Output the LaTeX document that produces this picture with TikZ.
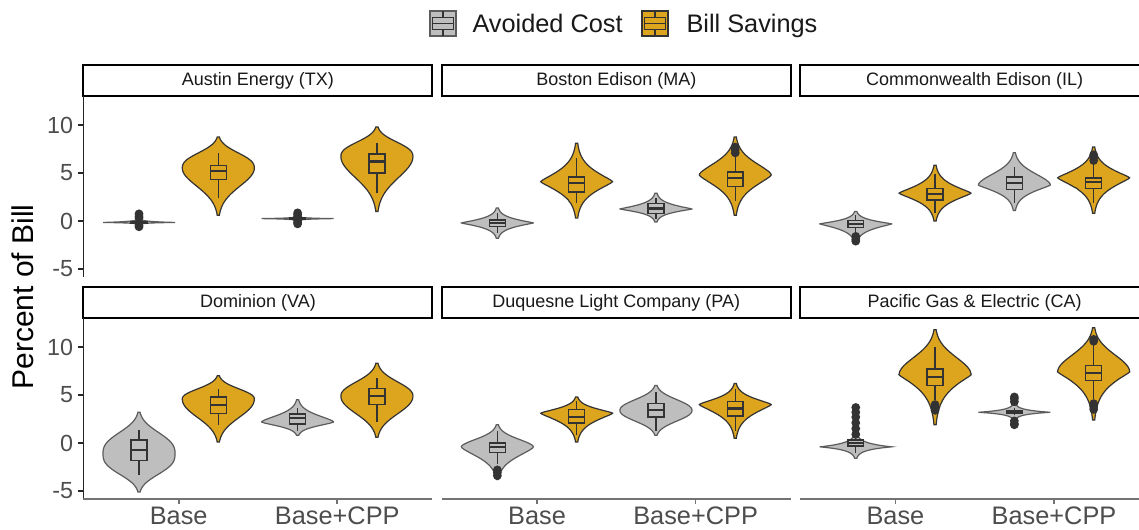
\documentclass[tikz,border=0pt]{standalone}
\usepackage{fontspec}
\setmainfont{Liberation Sans}

\definecolor{acgray}{HTML}{BEBEBE}
\definecolor{bsgold}{HTML}{DDA41E}
\definecolor{inkgray}{HTML}{333333}
\definecolor{ticktext}{HTML}{4D4D4D}

\tikzset{every picture/.style={line width=0.75pt}}
\tikzset{
  acviolin/.style={draw=inkgray!80, fill=acgray, line width=0.9pt},
  bsviolin/.style={draw=inkgray, fill=bsgold, line width=0.9pt},
  boxline/.style={draw=inkgray, line width=1.1pt},
  outpt/.style={fill=inkgray},
  stripbox/.style={draw=black, fill=white, line width=1.5pt},
  striptext/.style={inner sep=0pt, text=black!90, font=\fontsize{13.5}{16}\selectfont},
  yaxis/.style={draw=black!85, line width=1.1pt},
  xaxis/.style={draw=black!55, line width=1.3pt},
  ticklab/.style={inner sep=0pt, anchor=east, text=ticktext, font=\fontsize{17.5}{20}\selectfont},
  xlab/.style={inner sep=0pt, anchor=base, text=ticktext, font=\fontsize{19}{22}\selectfont},
  leglab/.style={inner sep=0pt, anchor=base west, text=black!90, font=\fontsize{19}{22}\selectfont},
  ytitle/.style={inner sep=0pt, anchor=base, rotate=90, font=\fontsize{22.5}{26}\selectfont},
}

% half width of a violin and of a box, in category units
\newcommand{\vhw}{0.227}
\newcommand{\bhw}{0.05}
% violin: x, lowest, mode, highest, lower shape, upper shape, style
\newcommand{\violinshape}[7]{%
  \draw[#7] plot[variable=\t, smooth, samples=31, domain=#2:#3] ({#1+\vhw*exp(-3.5*pow(abs((#3-(\t))/(#3-(#2)))+0.0001,#5))},\t)
    -- plot[variable=\t, smooth, samples=31, domain=#3:#4] ({#1+\vhw*exp(-3.5*pow(abs(((\t)-(#3))/(#4-(#3)))+0.0001,#6))},\t)
    -- plot[variable=\t, smooth, samples=31, domain=#4:#3] ({#1-\vhw*exp(-3.5*pow(abs(((\t)-(#3))/(#4-(#3)))+0.0001,#6))},\t)
    -- plot[variable=\t, smooth, samples=31, domain=#3:#2] ({#1-\vhw*exp(-3.5*pow(abs((#3-(\t))/(#3-(#2)))+0.0001,#5))},\t) -- cycle;}
% box: x, whisker low, q1, median, q3, whisker high, fill
\newcommand{\boxwhisker}[7]{%
  \draw[boxline] (#1,#2) -- (#1,#3) (#1,#5) -- (#1,#6);
  \draw[boxline, fill=#7] (#1-\bhw,#3) rectangle (#1+\bhw,#5);
  \draw[boxline, line width=1.6pt] (#1-\bhw,#4) -- (#1+\bhw,#4);}
\newcommand{\outliers}[2]{\foreach \v in {#2} {\fill[outpt] (#1,\v) circle[radius=3.3pt];}}

\begin{document}
\begin{tikzpicture}[x=0.75pt,y=0.75pt,yscale=-1,xscale=1]
\useasboundingbox (0,0) rectangle (1139,529);
\clip (0,0) rectangle (1139,529);
\fill[white] (0,0) rectangle (1139,529);

%Legend: Avoided Cost
\draw[acviolin] (430,11) rectangle (456,36);
\draw[boxline, line width=0.9pt] (443,11) -- (443,17.25) (443,29.75) -- (443,36);
\draw[boxline, line width=0.9pt, fill=acgray] (432.6,17.25) rectangle (453.4,29.75);
\draw[boxline, line width=0.9pt] (432.6,23.5) -- (453.4,23.5);
% Text Node
\node[leglab] (legAC) at (472,32.5) {Avoided Cost};
%Legend: Bill Savings
\draw[bsviolin] (642,11) rectangle (668,36);
\draw[boxline, line width=0.9pt] (655,11) -- (655,17.25) (655,29.75) -- (655,36);
\draw[boxline, line width=0.9pt, fill=bsgold] (644.6,17.25) rectangle (665.4,29.75);
\draw[boxline, line width=0.9pt] (644.6,23.5) -- (665.4,23.5);
% Text Node
\node[leglab] (legBS) at (686,32.5) {Bill Savings};

% Text Node
\node[ytitle] (ylab) at (33,297) {Percent of Bill};

%Panel: Austin Energy
\begin{scope}[shift={(20.06,221)}, x=118.95pt, y=-7.2pt]
  \draw[stripbox] (0.4,13) rectangle (2.6,16.25);
  \node[striptext] (tAustin) at (1.5,14.62) {Austin Energy (TX)};
  \draw[yaxis] (0.4,-5.8) -- (0.4,13);
  \foreach \v in {-5,0,5,10} {\draw[yaxis] (0.4,\v) -- ++(-4pt,0); \node[ticklab, xshift=-7.5pt] (ytop\v) at (0.4,\v) {\v};}
  \violinshape{0.75}{-0.35}{-0.15}{0.2}{1}{1}{acviolin}
  \violinshape{1.25}{0.6}{5.5}{8.75}{2}{2.5}{bsviolin}
  \violinshape{1.75}{0.05}{0.25}{0.45}{1}{1}{acviolin}
  \violinshape{2.25}{1.0}{6.7}{9.8}{2}{2.5}{bsviolin}
  \boxwhisker{0.75}{-0.3}{-0.22}{-0.15}{-0.08}{0.05}{acgray}
  \boxwhisker{1.25}{2.4}{4.3}{5.2}{5.8}{7.1}{bsgold}
  \boxwhisker{1.75}{0.1}{0.18}{0.25}{0.32}{0.4}{acgray}
  \boxwhisker{2.25}{2.9}{5.0}{6.2}{7.0}{8.1}{bsgold}
  \outliers{0.75}{0.75,0.5,0.3,-0.45,-0.6}
  \outliers{1.75}{0.85,0.65,0.45,0.05,-0.15,-0.3}
\end{scope}

%Panel: Boston Edison
\begin{scope}[shift={(378.4,221)}, x=118.95pt, y=-7.2pt]
  \draw[stripbox] (0.4,13) rectangle (2.6,16.25);
  \node[striptext] (tBoston) at (1.5,14.62) {Boston Edison (MA)};
  \violinshape{0.75}{-1.8}{-0.2}{1.35}{1.2}{1.2}{acviolin}
  \violinshape{1.25}{0.3}{4.1}{8.1}{1.3}{1.3}{bsviolin}
  \violinshape{1.75}{-0.1}{1.25}{2.9}{1.2}{1.2}{acviolin}
  \violinshape{2.25}{0.6}{4.8}{8.75}{1.4}{1.6}{bsviolin}
  \boxwhisker{0.75}{-1.2}{-0.6}{-0.2}{0.1}{0.8}{acgray}
  \boxwhisker{1.25}{1.9}{3.0}{4.0}{4.6}{6.6}{bsgold}
  \boxwhisker{1.75}{0.2}{0.8}{1.3}{1.8}{2.4}{acgray}
  \boxwhisker{2.25}{2.1}{3.6}{4.5}{5.1}{6.9}{bsgold}
  \outliers{2.25}{7.1,7.4,7.7}
\end{scope}

%Panel: Commonwealth Edison
\begin{scope}[shift={(736.8,221)}, x=118.95pt, y=-7.2pt]
  \draw[stripbox] (0.4,13) rectangle (2.6,16.25);
  \node[striptext] (tComEd) at (1.5,14.62) {Commonwealth Edison (IL)};
  \violinshape{0.75}{-2.3}{-0.3}{1.0}{1.2}{1.2}{acviolin}
  \violinshape{1.25}{0.0}{2.9}{5.8}{1.3}{1.3}{bsviolin}
  \violinshape{1.75}{1.1}{3.75}{7.1}{1.3}{1.8}{acviolin}
  \violinshape{2.25}{0.8}{4.5}{7.7}{1.3}{1.3}{bsviolin}
  \boxwhisker{0.75}{-1.3}{-0.7}{-0.3}{0.05}{0.6}{acgray}
  \boxwhisker{1.25}{0.8}{2.2}{2.8}{3.4}{4.9}{bsgold}
  \boxwhisker{1.75}{1.9}{3.3}{4.0}{4.6}{5.6}{acgray}
  \boxwhisker{2.25}{1.9}{3.4}{4.1}{4.5}{6.0}{bsgold}
  \outliers{0.75}{-1.6,-1.9,-2.1}
  \outliers{2.25}{6.3,6.6,6.9}
\end{scope}

%Panel: Dominion
\begin{scope}[shift={(20.06,443)}, x=118.95pt, y=-7.2pt]
  \draw[stripbox] (0.4,13) rectangle (2.6,16.25);
  \node[striptext] (tDominion) at (1.5,14.62) {Dominion (VA)};
  \draw[yaxis] (0.4,-5.8) -- (0.4,13);
  \foreach \v in {-5,0,5,10} {\draw[yaxis] (0.4,\v) -- ++(-4pt,0); \node[ticklab, xshift=-7.5pt] (ybot\v) at (0.4,\v) {\v};}
  \draw[xaxis] (0.4,-5.8) -- (2.6,-5.8);
  \foreach \c in {1,2} {\draw[xaxis] (\c,-5.8) -- ++(0,4pt);}
  \node[xlab] (xDomBase) at (1,-8.54) {Base};
  \node[xlab] (xDomCPP) at (2,-8.54) {Base+CPP};
  \violinshape{0.75}{-5.1}{-1.1}{3.2}{2.8}{2.6}{acviolin}
  \violinshape{1.25}{0.1}{4.6}{7.0}{2.2}{2.2}{bsviolin}
  \violinshape{1.75}{0.8}{2.2}{4.5}{1.5}{1.5}{acviolin}
  \violinshape{2.25}{0.6}{4.9}{8.3}{2.2}{2.2}{bsviolin}
  \boxwhisker{0.75}{-3.3}{-1.8}{-0.7}{0.3}{1.4}{acgray}
  \boxwhisker{1.25}{1.9}{3.1}{3.95}{4.8}{5.6}{bsgold}
  \boxwhisker{1.75}{1.3}{2.0}{2.6}{3.0}{3.6}{acgray}
  \boxwhisker{2.25}{2.2}{4.0}{4.9}{5.7}{6.8}{bsgold}
\end{scope}

%Panel: Duquesne Light
\begin{scope}[shift={(378.4,443)}, x=118.95pt, y=-7.2pt]
  \draw[stripbox] (0.4,13) rectangle (2.6,16.25);
  \node[striptext] (tDuquesne) at (1.5,14.62) {Duquesne Light Company (PA)};
  \draw[xaxis] (0.4,-5.8) -- (2.6,-5.8);
  \foreach \c in {1,2} {\draw[xaxis] (\c,-5.8) -- ++(0,4pt);}
  \node[xlab] (xDuqBase) at (1,-8.54) {Base};
  \node[xlab] (xDuqCPP) at (2,-8.54) {Base+CPP};
  \violinshape{0.75}{-3.8}{-0.4}{1.9}{1.5}{1.8}{acviolin}
  \violinshape{1.25}{0.1}{3.1}{4.8}{1.3}{1.4}{bsviolin}
  \violinshape{1.75}{0.8}{3.4}{6.0}{2.2}{2.2}{acviolin}
  \violinshape{2.25}{0.5}{4.0}{6.2}{1.3}{1.4}{bsviolin}
  \boxwhisker{0.75}{-2.2}{-1.0}{-0.4}{0.0}{1.3}{acgray}
  \boxwhisker{1.25}{0.8}{2.1}{2.7}{3.5}{4.4}{bsgold}
  \boxwhisker{1.75}{1.3}{2.7}{3.4}{4.1}{5.3}{acgray}
  \boxwhisker{2.25}{1.3}{2.8}{3.6}{4.3}{5.6}{bsgold}
  \outliers{0.75}{-2.8,-3.1,-3.4}
\end{scope}

%Panel: Pacific Gas & Electric
\begin{scope}[shift={(736.8,443)}, x=118.95pt, y=-7.2pt]
  \draw[stripbox] (0.4,13) rectangle (2.6,16.25);
  \node[striptext] (tPGE) at (1.5,14.62) {Pacific Gas \& Electric (CA)};
  \draw[xaxis] (0.4,-5.8) -- (2.6,-5.8);
  \foreach \c in {1,2} {\draw[xaxis] (\c,-5.8) -- ++(0,4pt);}
  \node[xlab] (xPgeBase) at (1,-8.54) {Base};
  \node[xlab] (xPgeCPP) at (2,-8.54) {Base+CPP};
  \violinshape{0.75}{-1.6}{-0.4}{1.0}{1}{1}{acviolin}
  \violinshape{1.25}{1.9}{7.1}{11.8}{1.2}{2}{bsviolin}
  \violinshape{1.75}{2.4}{3.2}{4.1}{1}{1}{acviolin}
  \violinshape{2.25}{2.4}{7.4}{12.0}{1.2}{2}{bsviolin}
  \boxwhisker{0.75}{-1.0}{-0.3}{0.0}{0.3}{0.6}{acgray}
  \boxwhisker{1.25}{4.5}{6.0}{6.9}{7.7}{10.0}{bsgold}
  \boxwhisker{1.75}{2.9}{3.1}{3.2}{3.35}{3.6}{acgray}
  \boxwhisker{2.25}{4.6}{6.5}{7.3}{8.1}{10.3}{bsgold}
  \outliers{0.75}{0.9,1.5,2.1,2.7,3.2,3.7}
  \outliers{1.25}{3.4,3.7,4.0}
  \outliers{1.75}{4.3,4.6,4.8,2.3,2.0,1.9}
  \outliers{2.25}{10.6,10.8,3.5,3.8,4.1}
\end{scope}

\end{tikzpicture}
\end{document}
